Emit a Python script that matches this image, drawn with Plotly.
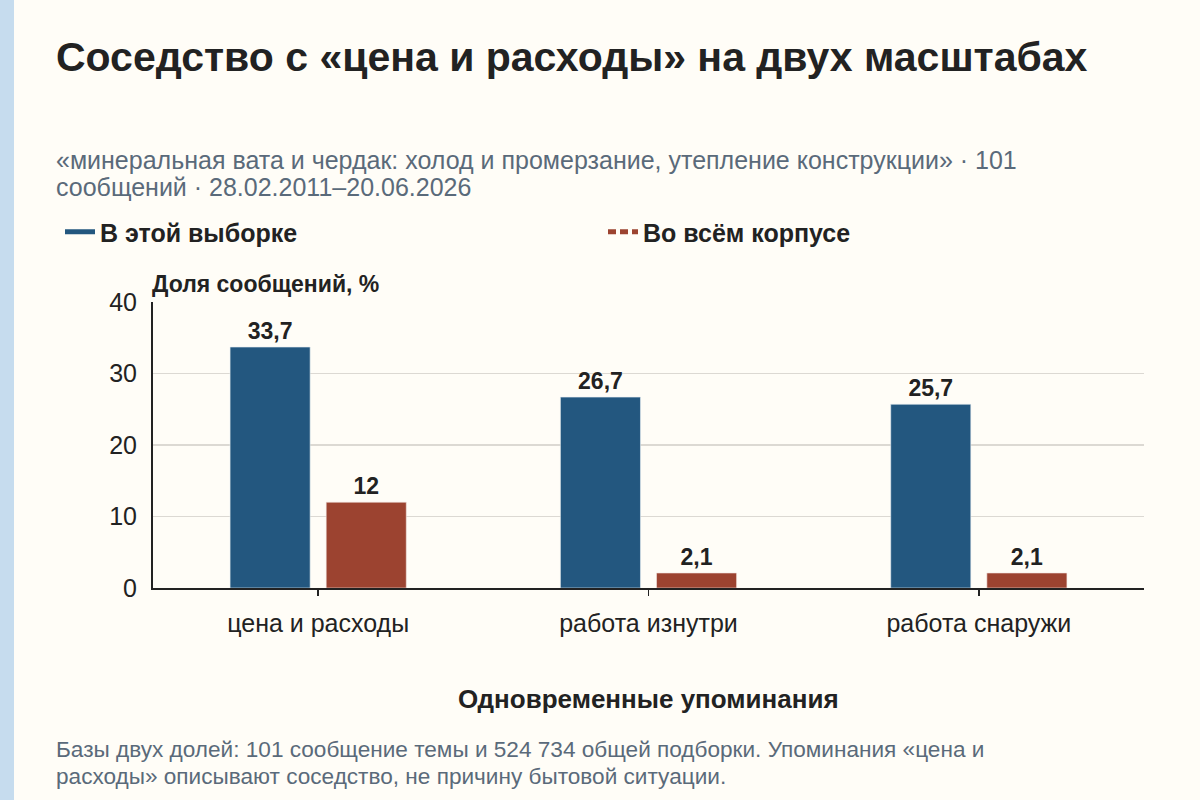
import plotly.graph_objects as go

categories = ["цена и расходы", "работа изнутри", "работа снаружи"]
sample_values = [33.7, 26.7, 25.7]
corpus_values = [12, 2.1, 2.1]
series_names = ["В этой выборке", "Во всём корпусе"]
y_ticks = [0, 10, 20, 30, 40]

title = "Соседство с «цена и расходы» на двух масштабах"
subtitle_lines = ["«минеральная вата и чердак: холод и промерзание, утепление конструкции» · 101",
                  "сообщений · 28.02.2011–20.06.2026"]
y_title = "Доля сообщений, %"
x_title = "Одновременные упоминания"
footnote_lines = ["Базы двух долей: 101 сообщение темы и 524 734 общей подборки. Упоминания «цена и",
                  "расходы» описывают соседство, не причину бытовой ситуации."]

BLUE = "#23577f"
RED = "#9c4330"
BG = "#fffdf7"
INK = "#222222"
MUTED = "#5a6a7a"
FONT = "Liberation Sans, Arial, sans-serif"

W, H = 1200, 800
L, R, T, B = 153, 56, 302, 212
PW = W - L - R
PH = H - T - B


def px_x(x):
    return (x - L) / PW


def px_y(y):
    return (H - B - y) / PH


def fmt(v):
    return f"{v:g}".replace(".", ",")


fig = go.Figure()
fig.add_trace(go.Bar(
    x=categories, y=sample_values, name=series_names[0],
    marker=dict(color=BLUE, line=dict(color="#e8eef2", width=0.6)),
    text=[fmt(v) for v in sample_values], textposition="outside",
    textfont=dict(family=FONT, size=23, color=INK, weight="bold"),
    cliponaxis=False, showlegend=False,
))
fig.add_trace(go.Bar(
    x=categories, y=corpus_values, name=series_names[1],
    marker=dict(color=RED, line=dict(color="#f2e6e2", width=0.6)),
    text=[fmt(v) for v in corpus_values], textposition="outside",
    textfont=dict(family=FONT, size=23, color=INK, weight="bold"),
    cliponaxis=False, showlegend=False,
))
# legend entries
fig.add_trace(go.Scatter(x=[None], y=[None], mode="lines", name=series_names[0],
                         line=dict(color=BLUE, width=5), legend="legend"))
fig.add_trace(go.Scatter(x=[None], y=[None], mode="lines", name=series_names[1],
                         line=dict(color=RED, width=5, dash="8px,4px"), legend="legend2"))


def note(text, x, y, size, color, bold=False, anchor="left"):
    return dict(text=f"<b>{text}</b>" if bold else text, x=x, y=y,
                xref="paper", yref="paper", xanchor=anchor, yanchor="middle",
                showarrow=False, align="left", borderpad=0,
                font=dict(family=FONT, size=size, color=color))


annotations = [
    note(title, px_x(55), px_y(57), 41, INK, bold=True),
    note(subtitle_lines[0], px_x(55), px_y(160), 25, MUTED),
    note(subtitle_lines[1], px_x(55), px_y(187), 25, MUTED),
    note(y_title, px_x(151), px_y(284), 23, INK, bold=True),
    note(x_title, 0.5, px_y(699), 26, INK, bold=True, anchor="center"),
    note(footnote_lines[0], px_x(55), px_y(749), 22.6, MUTED),
    note(footnote_lines[1], px_x(55), px_y(776), 22.6, MUTED),
]

legend_common = dict(orientation="h", yanchor="middle", xanchor="left",
                     bgcolor="rgba(0,0,0,0)",
                     font=dict(family=FONT, size=25, color=INK, weight="bold"),
                     itemclick=False, itemdoubleclick=False)

fig.update_layout(
    width=W, height=H,
    margin=dict(l=L, r=R, t=T, b=B, autoexpand=False),
    paper_bgcolor=BG, plot_bgcolor=BG,
    barmode="group", bargap=0.418, bargroupgap=0.167,
    font=dict(family=FONT, size=24, color=INK),
    showlegend=True,
    legend=dict(x=px_x(60), y=px_y(232), **legend_common),
    legend2=dict(x=px_x(603), y=px_y(232), **legend_common),
    annotations=annotations,
    shapes=[dict(type="rect", xref="paper", yref="paper",
                 x0=px_x(0), x1=px_x(14), y0=px_y(0), y1=px_y(800),
                 fillcolor="#c6dcee", line=dict(width=0), layer="below")],
    separators=", ",
    hovermode=False,
)
fig.update_xaxes(
    showline=True, linecolor=INK, linewidth=2,
    ticks="outside", ticklen=6, tickcolor=INK, tickwidth=1.5,
    tickfont=dict(family=FONT, size=25, color=INK),
    ticklabelstandoff=6, showgrid=False,
)
fig.update_yaxes(
    range=[0, 40], tickvals=y_ticks, ticktext=[str(v) for v in y_ticks],
    showline=True, linecolor=INK, linewidth=2,
    showgrid=True, gridcolor="#dcd9d3", gridwidth=1.5,
    ticks="", ticklabelstandoff=9, zeroline=False,
    tickfont=dict(family=FONT, size=25, color=INK),
)

fig.write_html("out.html", config={"displayModeBar": False, "staticPlot": True})

with open("out.html", encoding="utf-8") as f:
    html = f.read()
html = html.replace("<body>", '<body style="margin:0;padding:0;background:#fffdf7;">', 1)
with open("out.html", "w", encoding="utf-8") as f:
    f.write(html)
